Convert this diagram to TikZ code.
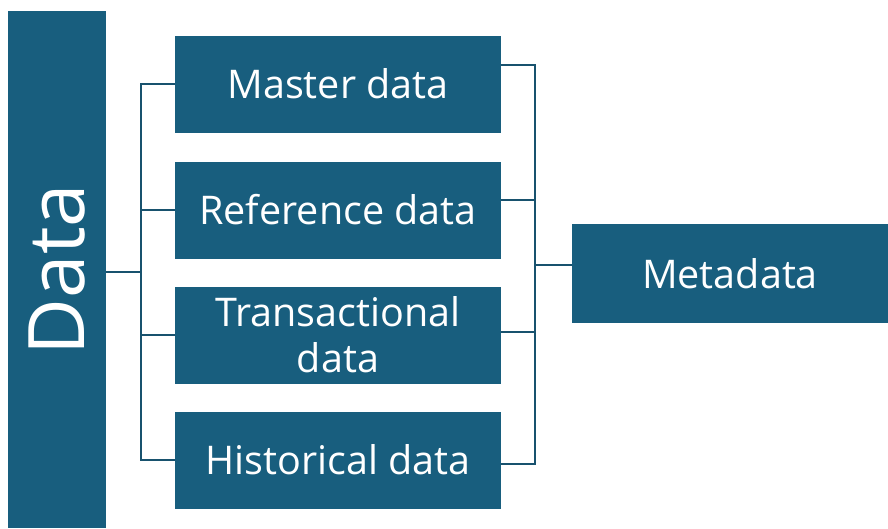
\documentclass[tikz,border=0pt]{standalone}
\usepackage{fontspec}
\setmainfont{Open Sans}
\definecolor{boxblue}{RGB}{24,94,126}
\definecolor{linkblue}{RGB}{24,82,110}
\begin{document}
\begin{tikzpicture}[x=1pt,y=-1pt,
    box/.style={fill=boxblue,text=white,minimum width=326pt,minimum height=97pt,
      inner sep=0pt,align=center,font=\fontsize{39.5}{46}\selectfont},
    link/.style={draw=linkblue,line width=2.4pt}]
    \useasboundingbox (0,0) rectangle (888,528);
    % the data column and the four kinds
    \node[fill=boxblue,text=white,rotate=90,minimum width=517pt,minimum height=98pt,
      inner sep=0pt,font=\fontsize{78}{78}\selectfont] (data) at (57,269.5) {Data};
    \node[box] (master) at (338,84) {Master data};
    \node[box] (ref) at (338,210) {Reference data};
    \node[box] (trans) at (338,335) {Transactional\\data};
    \node[box] (hist) at (338,460) {Historical data};
    \node[box,minimum width=316pt,minimum height=99pt] (meta) at (730,273.5) {Metadata};
    % left bracket
    \coordinate (lb) at (141,272);
    \draw[link] (data.south |- lb) -- (lb);
    \draw[link] (master.west) -| (lb) |- (hist.west);
    \draw[link] (ref.west) -- (ref.west -| lb);
    \draw[link] (trans.west) -- (trans.west -| lb);
    % right bracket
    \coordinate (rb) at (535,265);
    \draw[link] ([yshift=19pt]master.east) -| (rb) |- ([yshift=-4pt]hist.east);
    \draw[link] ([yshift=10pt]ref.east) -- ++(34,0);
    \draw[link] ([yshift=3pt]trans.east) -- ++(34,0);
    \draw[link] (rb) -- (meta.west |- rb);
\end{tikzpicture}
\end{document}
